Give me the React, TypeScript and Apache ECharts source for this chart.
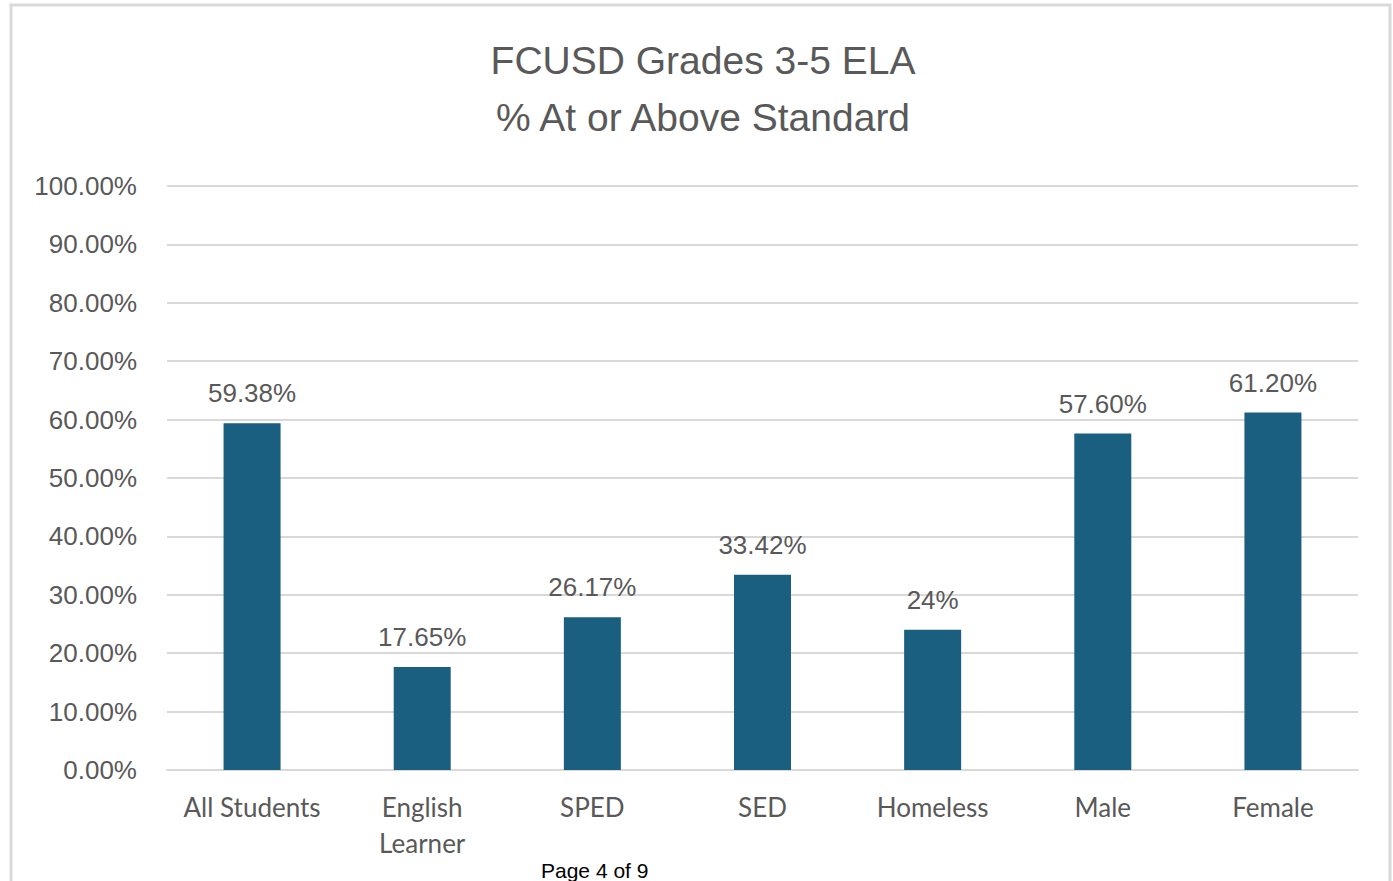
import React, { useEffect, useRef } from "react";
import * as echarts from "echarts";

const categories = ["All Students", "English\nLearner", "SPED", "SED", "Homeless", "Male", "Female"];
const values = [59.38, 17.65, 26.17, 33.42, 24, 57.6, 61.2];
const valueLabels = ["59.38%", "17.65%", "26.17%", "33.42%", "24%", "57.60%", "61.20%"];
const titleLines = ["FCUSD Grades 3-5 ELA", "% At or Above Standard"];
const footer = "Page 4 of 9";

export default function App() {
  const ref = useRef<HTMLDivElement>(null);
  useEffect(() => {
    const chart = echarts.init(ref.current!, null, { renderer: "svg" });
    chart.setOption({
      animation: false,
      backgroundColor: "#ffffff",
      grid: { left: 167, right: 35, top: 186, bottom: 111 },
      xAxis: {
        type: "category",
        data: categories,
        axisLine: { lineStyle: { color: "#d9d9d9", width: 2 } },
        axisTick: { show: false },
        axisLabel: { interval: 0, fontFamily: "Lato", fontSize: 26, color: "#595959", margin: 19, lineHeight: 36 },
      },
      yAxis: {
        type: "value",
        min: 0,
        max: 100,
        interval: 10,
        axisLine: { show: false },
        axisTick: { show: false },
        splitLine: { lineStyle: { color: "#d9d9d9", width: 2 } },
        axisLabel: {
          fontFamily: "Liberation Sans",
          fontSize: 26,
          color: "#595959",
          margin: 30,
          formatter: (v: number) => v.toFixed(2) + "%",
        },
      },
      series: [
        {
          type: "bar",
          data: values,
          barWidth: 57,
          itemStyle: { color: "#1a5e80" },
          label: {
            show: true,
            position: "top",
            distance: 17,
            fontFamily: "Liberation Sans",
            fontSize: 26,
            color: "#595959",
            formatter: (p: any) => valueLabels[p.dataIndex],
          },
        },
      ],
      graphic: [
        {
          type: "rect",
          shape: { x: 11, y: 5, width: 1379, height: 890 },
          style: { fill: "none", stroke: "#d9d9d9", lineWidth: 3 },
          silent: true,
        },
        {
          type: "text",
          x: 703,
          y: 60,
          style: { text: titleLines[0], textAlign: "center", textVerticalAlign: "middle", fontFamily: "Liberation Sans", fontSize: 39, fill: "#595959" },
        },
        {
          type: "text",
          x: 703,
          y: 117,
          style: { text: titleLines[1], textAlign: "center", textVerticalAlign: "middle", fontFamily: "Liberation Sans", fontSize: 39, fill: "#595959" },
        },
        {
          type: "text",
          x: 541,
          y: 860,
          style: { text: footer, fontFamily: "Liberation Sans", fontSize: 21, fill: "#000000" },
        },
      ],
    });
    return () => chart.dispose();
  }, []);
  return <div ref={ref} style={{ position: "fixed", left: 0, top: 0, width: 1393, height: 881 }} />;
}
